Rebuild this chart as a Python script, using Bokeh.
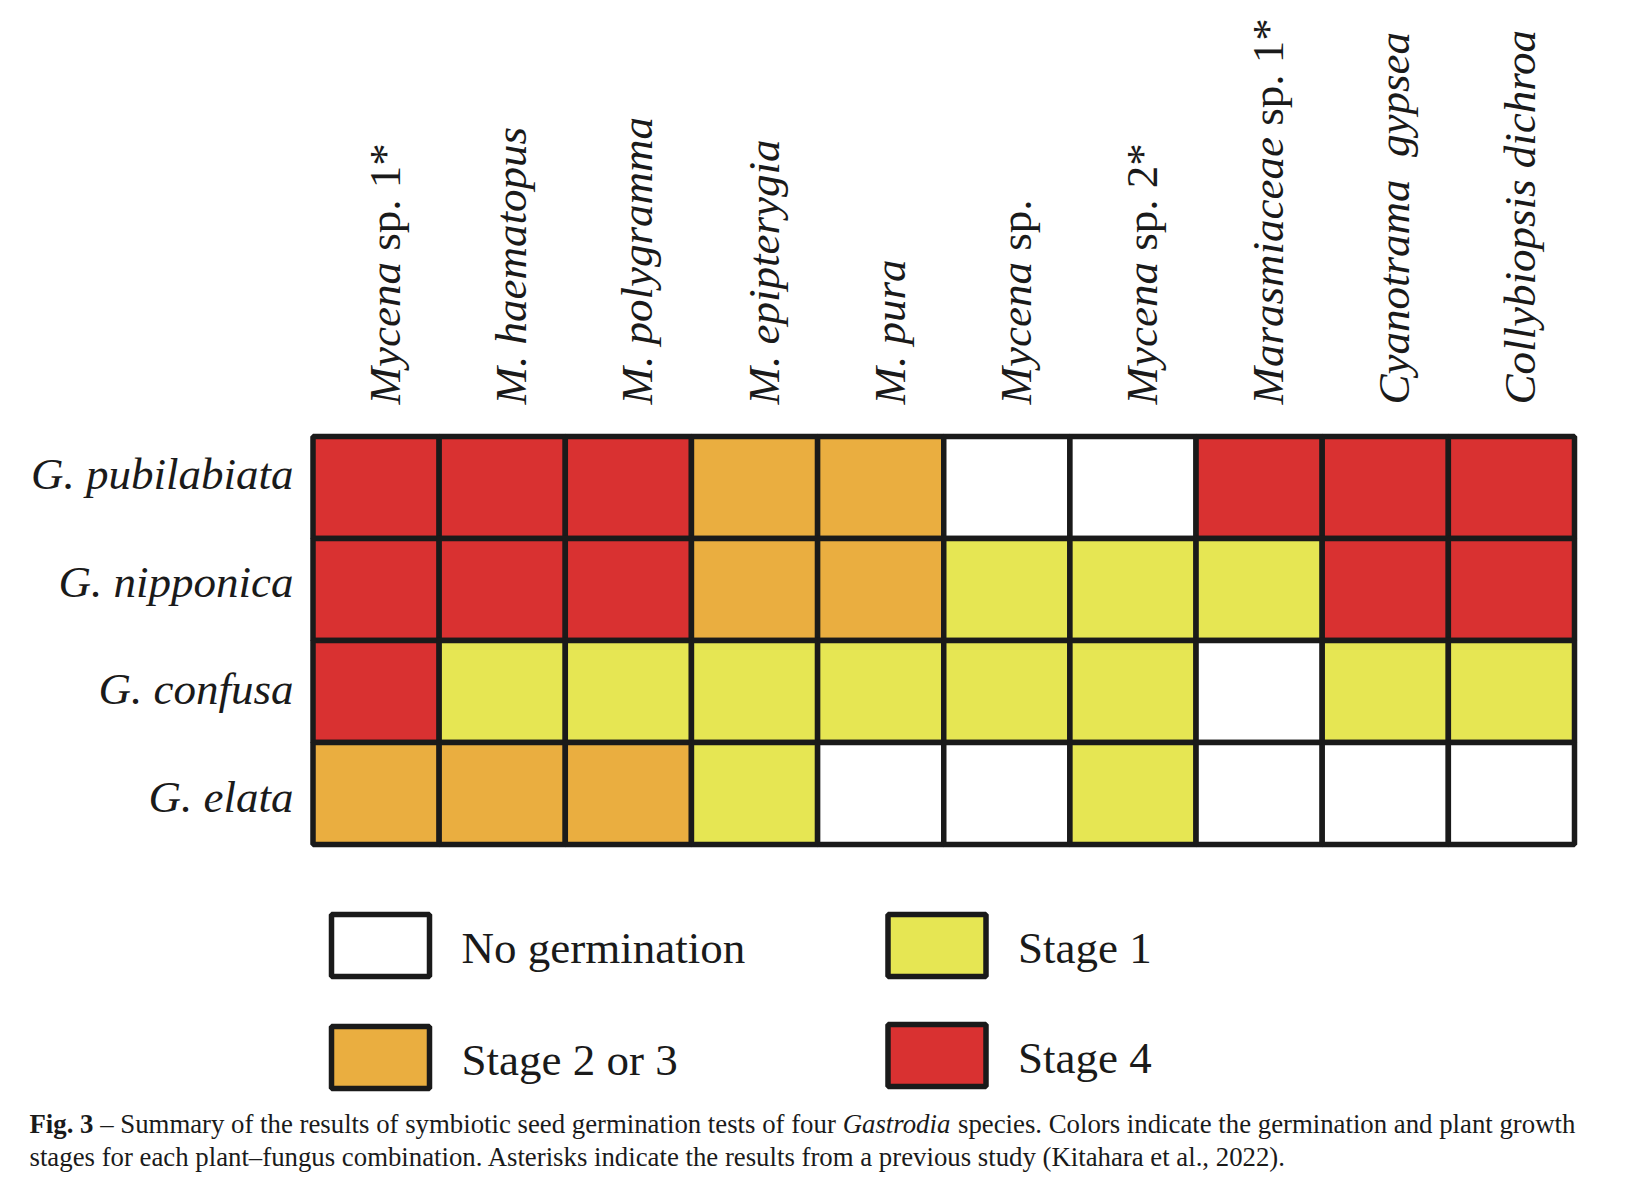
import math
from bokeh.plotting import figure
from bokeh.models import Range1d
from bokeh.core.properties import value
from bokeh.embed import file_html
from bokeh.resources import INLINE

# ---------------- data ----------------
plants = ["G. pubilabiata", "G. nipponica", "G. confusa", "G. elata"]
fungi_italic = ["Mycena", "M. haematopus", "M. polygramma", "M. epipterygia", "M. pura",
                "Mycena", "Mycena", "Marasmiaceae", "Cyanotrama \u00a0gypsea", "Collybiopsis dichroa"]
fungi_roman = ["sp. 1*", "", "", "", "", "sp.", "sp. 2*", "sp. 1*", "", ""]
stage_names = ["No germination", "Stage 1", "Stage 2 or 3", "Stage 4"]
stage_colors = ["#FFFFFF", "#E6E653", "#EAAE40", "#D93131"]
# stage index per fungus (0 = no germination, 1 = stage 1, 2 = stage 2 or 3, 3 = stage 4)
pubilabiata = [3, 3, 3, 2, 2, 0, 0, 3, 3, 3]
nipponica = [3, 3, 3, 2, 2, 1, 1, 1, 3, 3]
confusa = [3, 1, 1, 1, 1, 1, 1, 0, 1, 1]
elata = [2, 2, 2, 1, 0, 0, 1, 0, 0, 0]
results = [pubilabiata, nipponica, confusa, elata]
caption_line1 = [("Fig. 3", "bold"),
                 ("\u2013 Summary of the results of symbiotic seed germination tests of four", "normal"),
                 ("Gastrodia", "italic"),
                 ("species. Colors indicate the germination and plant growth", "normal")]
caption_line2 = "stages for each plant\u2013fungus combination. Asterisks indicate the results from a previous study (Kitahara et al., 2022)."

# ---------------- font metrics (Times / Liberation Serif, per 1000 em) ----------------
_reg = {' ': 250, '(': 333, ')': 333, '*': 500, ',': 250, '-': 333, '.': 250, ':': 278, '\u2013': 500,
        'A': 722, 'B': 667, 'C': 667, 'D': 722, 'E': 611, 'F': 556, 'G': 722, 'H': 722, 'I': 333, 'J': 389,
        'K': 722, 'L': 611, 'M': 889, 'N': 722, 'O': 722, 'P': 556, 'Q': 722, 'R': 667, 'S': 556, 'T': 611,
        'U': 722, 'V': 722, 'W': 944, 'X': 722, 'Y': 722, 'Z': 611,
        'a': 444, 'b': 500, 'c': 444, 'd': 500, 'e': 444, 'f': 333, 'g': 500, 'h': 500, 'i': 278, 'j': 278,
        'k': 500, 'l': 278, 'm': 778, 'n': 500, 'o': 500, 'p': 500, 'q': 500, 'r': 333, 's': 389, 't': 278,
        'u': 500, 'v': 500, 'w': 722, 'x': 500, 'y': 500, 'z': 444}
_ita = {' ': 250, '\u00a0': 250, '.': 250, '*': 500,
        'A': 611, 'B': 611, 'C': 667, 'D': 722, 'E': 611, 'F': 611, 'G': 722, 'H': 722, 'I': 333, 'J': 444,
        'K': 667, 'L': 556, 'M': 833, 'N': 667, 'O': 722, 'P': 611, 'Q': 722, 'R': 611, 'S': 500, 'T': 556,
        'U': 722, 'V': 611, 'W': 833, 'X': 611, 'Y': 556, 'Z': 556,
        'a': 500, 'b': 500, 'c': 444, 'd': 500, 'e': 444, 'f': 278, 'g': 500, 'h': 500, 'i': 278, 'j': 278,
        'k': 444, 'l': 278, 'm': 722, 'n': 500, 'o': 500, 'p': 500, 'q': 500, 'r': 389, 's': 389, 't': 278,
        'u': 500, 'v': 444, 'w': 667, 'x': 444, 'y': 444, 'z': 389}
_bold = {' ': 250, '.': 250, 'F': 611, 'i': 278, 'g': 500}
_tables = {"normal": _reg, "italic": _ita, "bold": _bold}


def tw(s, size, style):
    tb = _tables[style]
    return sum(tb.get(ch, 500) for ch in s) * size / 1000.0


# ---------------- geometry (pixels) ----------------
W, H = 1614, 1180
CW, RH = 126.15, 102.0          # cell size in pixels
GX, GY = 312.5, 436.0           # grid top-left in page pixels
XS, XE = -GX / CW, (W - GX) / CW
YT, YB = -GY / RH, (H - GY) / RH


def dx(px):  # page pixel -> data x
    return (px - GX) / CW


def dy(py):  # page pixel -> data y
    return (py - GY) / RH


FONT = value("Liberation Serif")
INK = "#1a1a1a"
LBL = 45

p = figure(width=W, height=H, x_range=Range1d(XS, XE), y_range=Range1d(YB, YT),
           output_backend="svg", toolbar_location=None, min_border=0,
           x_axis_location=None, y_axis_location=None)
p.grid.visible = False
p.outline_line_color = None
p.background_fill_color = "white"
p.border_fill_color = "white"

# ---------------- cells ----------------
xs, ys, cols = [], [], []
for r, row in enumerate(results):
    for c, v in enumerate(row):
        xs.append(c + 0.5)
        ys.append(r + 0.5)
        cols.append(stage_colors[v])
p.rect(x=xs, y=ys, width=1, height=1, fill_color=cols, line_color=INK, line_width=5.5)

# ---------------- row labels ----------------
p.text(x=[dx(293)] * len(plants), y=[dy(473.5 + 107.5 * r) for r in range(len(plants))], text=plants,
       text_align="right", text_baseline="alphabetic", text_font=FONT, text_font_style="italic",
       text_font_size=f"{LBL}px", text_color=INK)

# ---------------- column labels (rotated) ----------------
base_y = dy(404)
off_x = 9 / CW
p.text(x=[c + 0.5 + off_x for c in range(len(fungi_italic))], y=[base_y] * len(fungi_italic),
       text=fungi_italic, angle=math.pi / 2, text_align="left", text_baseline="alphabetic",
       text_font=FONT, text_font_style="italic", text_font_size=f"{LBL}px", text_color=INK)
rx, ry, rt = [], [], []
for c, s in enumerate(fungi_roman):
    if s:
        rx.append(c + 0.5 + off_x)
        ry.append(base_y - tw(fungi_italic[c] + " ", LBL, "italic") / RH)
        rt.append(s)
p.text(x=rx, y=ry, text=rt, angle=math.pi / 2, text_align="left", text_baseline="alphabetic",
       text_font=FONT, text_font_style="normal", text_font_size=f"{LBL}px", text_color=INK)

# ---------------- legend ----------------
leg_cx = [380, 936.5, 380, 936.5]
leg_cy = [945, 945, 1057, 1055]
p.rect(x=[dx(v) for v in leg_cx], y=[dy(v) for v in leg_cy], width=98 / CW, height=62 / RH,
       fill_color=stage_colors, line_color=INK, line_width=5.5)
p.text(x=[dx(v + 81) for v in leg_cx], y=[dy(v + 2) for v in leg_cy], text=stage_names,
       text_align="left", text_baseline="middle", text_font=FONT, text_font_size=f"{LBL}px",
       text_color=INK)

# ---------------- caption ----------------
x0, x1 = 29, 1575
units = sum(tw(s, 1000, st) for s, st in caption_line1) + 250 * (len(caption_line1) - 1)
CAP = (x1 - x0) / units * 1000
y1, y2 = dy(1123), dy(1156)
cx = x0
for s, st in caption_line1:
    p.text(x=[dx(cx)], y=[y1], text=[s], text_align="left", text_baseline="middle",
           text_font=FONT, text_font_style=st, text_font_size=f"{CAP:.2f}px", text_color=INK)
    cx += tw(s + " ", CAP, st)
p.text(x=[dx(x0)], y=[y2], text=[caption_line2], text_align="left", text_baseline="middle",
       text_font=FONT, text_font_size=f"{CAP:.2f}px", text_color=INK)

open("out.html", "w").write(file_html(p, INLINE))
